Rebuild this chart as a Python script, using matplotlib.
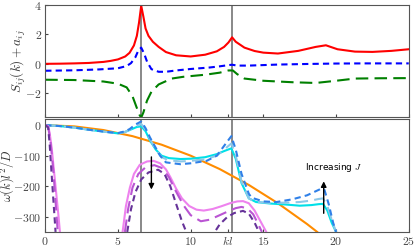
import numpy as np
import matplotlib
matplotlib.use("Agg")
import matplotlib.pyplot as plt

plt.rcParams['mathtext.fontset'] = 'cm'
plt.rcParams['font.family'] = ['DejaVu Sans']

# top panel: S_ij(k) + a_ij
k_red = [0, 1, 2, 3, 4, 4.5, 5, 5.5, 5.8, 6.1, 6.3, 6.45, 6.6, 6.75, 6.9, 7.1, 7.4, 7.8, 8.3, 9, 10,
         11, 11.8, 12.3, 12.6, 12.85, 13.1, 13.7, 14.4, 15, 16, 17.4, 18.6, 19.3, 20.1, 21.3, 22.5, 23.8, 25]
s_red = [0, 0.01, 0.03, 0.06, 0.13, 0.2, 0.3, 0.5, 0.75, 1.25, 1.9, 2.8, 3.95, 3.2, 2.4, 1.9, 1.5, 1.15, 0.8, 0.58, 0.5,
         0.62, 0.85, 1.15, 1.45, 1.8, 1.5, 1.1, 0.87, 0.76, 0.7, 0.88, 1.15, 1.26, 0.99, 0.83, 0.81, 0.88, 0.99]

k_blue = [0, 2, 3.7, 5, 5.6, 5.9, 6.2, 6.4, 6.6, 6.8, 7.0, 7.3, 7.8, 8.3, 9, 10, 11.3, 12, 12.5, 12.85, 13.2, 14, 16, 18, 20, 22, 25]
s_blue = [-0.47, -0.44, -0.38, -0.3, -0.15, 0.05, 0.45, 0.9, 1.1, 0.7, 0.15, -0.36, -0.54, -0.54, -0.45, -0.35, -0.25, -0.17, -0.1, -0.06, -0.12, -0.12, -0.05, -0.01, 0.02, 0.03, 0.03]

k_green = [0, 2, 4, 5, 5.6, 6.0, 6.3, 6.5, 6.6, 6.75, 7.0, 7.3, 7.8, 8.7, 9.5, 11, 12, 12.6, 12.9, 13.2, 13.7, 15, 17, 18.6, 20, 21.3, 23, 25]
s_green = [-1.08, -1.1, -1.2, -1.35, -1.6, -2.2, -3.0, -3.5, -3.65, -3.3, -2.5, -1.9, -1.4, -1.0, -0.88, -0.74, -0.6, -0.45, -0.45, -0.7, -1.0, -1.15, -1.25, -1.3, -1.15, -1.0, -0.98, -0.97]

# bottom panel: omega(k) l^2 / D
k_orange = [0, 2, 4, 6, 8, 10, 12, 14, 16, 18, 18.7]
w_orange = [0, -4, -16, -36, -64, -100, -144, -196, -256, -324, -350]

k_cyan = [0, 1, 2, 3, 4, 5, 5.5, 6.0, 6.3, 6.6, 6.9, 7.2, 7.6, 8.0, 8.5, 9.3, 10, 11, 11.8, 12.3, 12.8,
          13.1, 13.5, 14.0, 14.5, 15.5, 16.5, 17.5, 18.3, 18.8, 19.1, 19.4, 19.7, 20.0]
w_cyan = [0, -3, -8, -15, -21, -27, -22, -12, -6, -4, -20, -50, -80, -100, -108, -111, -110, -105, -95, -85, -76,
          -110, -190, -240, -252, -257, -260, -264, -262, -259, -258, -280, -320, -350]

k_lblue = [0, 1, 2, 3, 4, 5, 5.5, 6.0, 6.3, 6.6, 6.9, 7.2, 7.6, 8.0, 8.5, 9.3, 10, 11, 11.8, 12.3, 12.8,
           13.1, 13.5, 14.0, 14.5, 15.5, 16.5, 17.5, 18.3, 18.8, 19.1, 19.4, 19.7, 20.0]
w_lblue = [0, -3, -8, -15, -21, -27, -22, -10, -2, 4, -15, -45, -80, -105, -115, -119, -117, -112, -100, -80, -60,
           -100, -185, -240, -252, -255, -254, -252, -247, -242, -240, -265, -310, -350]

k_dblue = [0, 1, 2, 3, 4, 5, 5.5, 5.8, 6.2, 6.6, 6.9, 7.2, 7.9, 8.3, 9.3, 10, 11.1, 11.8, 12.47, 12.8,
           13.1, 13.5, 14.0, 14.2, 15, 15.9, 17, 18, 18.9, 19.2, 19.5, 19.8, 20.0]
w_dblue = [0, -3, -8, -15, -21, -26, -20, -13, 2, 12, -10, -40, -100, -122, -128, -125, -117, -100, -57, -36,
           -80, -160, -225, -238, -250, -252, -243, -230, -210, -212, -260, -320, -350]

# J curves, left and right branches
k_v_left = [0, 0.2, 0.3, 0.44, 0.67, 0.9, 1.01]
w_v_left = [0, -3, -25, -73, -183, -292, -350]
k_v_right = [5.32, 5.55, 5.82, 6.1, 6.5, 7.0, 7.45, 7.9, 8.3, 8.6, 9.0, 9.4, 9.9, 10.4, 10.9, 11.5, 12.1,
             12.7, 13.2, 13.6, 14.0, 14.4, 14.8, 15.2]
w_v_right = [-350, -265, -205, -160, -130, -119, -117, -125, -145, -170, -208, -240, -265, -277, -280, -275, -266,
             -256, -250, -249, -256, -280, -315, -350]

k_m_left = [0, 0.2, 0.35, 0.56, 0.86]
w_m_left = [0, -5, -50, -150, -350]
k_m_right = [5.48, 5.7, 6.0, 6.4, 6.9, 7.5, 8.0, 8.5, 9.0, 9.5, 10.0, 10.7, 11.3, 12.0, 12.6, 13.1, 13.5,
             13.9, 14.3, 14.6, 14.9]
w_m_right = [-350, -275, -205, -160, -138, -131, -140, -170, -218, -262, -295, -315, -310, -295, -282, -272, -268,
             -273, -292, -320, -350]

k_d_left = [0, 0.2, 0.3, 0.48, 0.71]
w_d_left = [0, -8, -60, -190, -350]
k_d_right = [5.64, 5.9, 6.2, 6.6, 7.1, 7.76, 8.2, 8.6, 9.0, 9.4, 9.7, 10.2, 10.8, 11.3, 11.66, 12.0, 12.5,
             13.0, 13.6, 14.0, 14.4, 14.7]
w_d_right = [-350, -275, -220, -178, -155, -146, -160, -200, -258, -315, -350, -385, -395, -375, -350, -325, -302,
             -288, -281, -290, -320, -350]

k_lines = [6.6, 12.83]
xticks = [0, 5, 10, 12.55, 15, 20, 25]
xlabels = ['$0$', '$5$', '$10$', '$kl$', '$15$', '$20$', '$25$']

fig = plt.figure(figsize=(4.15, 2.47), dpi=100)
ax1 = fig.add_axes([0.109, 0.527, 0.876, 0.453])
ax2 = fig.add_axes([0.109, 0.061, 0.876, 0.457])

for ax in (ax1, ax2):
    for kv in k_lines:
        ax.axvline(kv, color='#888888', lw=1.4, zorder=1)
    for sp in ax.spines.values():
        sp.set_color('#555555')
    ax.tick_params(colors='#444444', labelsize=8.5, length=2.5, width=0.8, direction='in', pad=2.5)
    ax.set_xlim(0, 25)
    ax.set_xticks(xticks)

ax1.plot(k_red, s_red, color='red', lw=1.5)
ax1.plot(k_blue, s_blue, color='blue', lw=1.5, dashes=(3, 2))
ax1.plot(k_green, s_green, color='green', lw=1.5, dashes=(6, 3))
ax1.set_ylim(-3.6, 4)
ax1.set_yticks([-2, 0, 2, 4])
ax1.set_yticklabels(['$-2$', '$0$', '$2$', '$4$'])
ax1.set_xticklabels([])
ax1.set_ylabel('$S_{ij}(k)+a_{ij}$', fontsize=9.5, color='#333333')
ax1.yaxis.set_label_coords(-0.048, 0.5)

ax2.plot(k_orange, w_orange, color='darkorange', lw=1.5)
ax2.plot(k_cyan, w_cyan, color='#00e0e8', lw=1.5)
ax2.plot(k_lblue, w_lblue, color='#8cc8e8', lw=1.5, dashes=(6, 3))
ax2.plot(k_dblue, w_dblue, color='#2f80e8', lw=1.5, dashes=(3, 2))
for kk, ww in [(k_v_left, w_v_left), (k_v_right, w_v_right)]:
    ax2.plot(kk, ww, color='violet', lw=1.5)
for kk, ww in [(k_m_left, w_m_left), (k_m_right, w_m_right)]:
    ax2.plot(kk, ww, color='mediumorchid', lw=1.5, dashes=(6, 3))
for kk, ww in [(k_d_left, w_d_left), (k_d_right, w_d_right)]:
    ax2.plot(kk, ww, color='rebeccapurple', lw=1.5, dashes=(3, 2))

ax2.annotate('', xy=(7.3, -220), xytext=(7.3, -95),
             arrowprops=dict(arrowstyle='-|>', color='black', lw=1.0, mutation_scale=8))
ax2.annotate('', xy=(19.15, -175), xytext=(19.15, -298),
             arrowprops=dict(arrowstyle='-|>', color='black', lw=1.0, mutation_scale=8))
ax2.text(19.8, -139, 'Increasing $J$', fontsize=6.5, ha='center', va='center')

ax2.set_ylim(-350, 20)
ax2.set_yticks([-300, -200, -100, 0])
ax2.set_yticklabels(['$-300$', '$-200$', '$-100$', '$0$'])
ax2.set_xticklabels(xlabels)
ax2.set_ylabel('$\\omega(k)l^2/D$', fontsize=9, color='#333333')
ax2.yaxis.set_label_coords(-0.081, 0.5)

fig.savefig('out.png', dpi=100)
